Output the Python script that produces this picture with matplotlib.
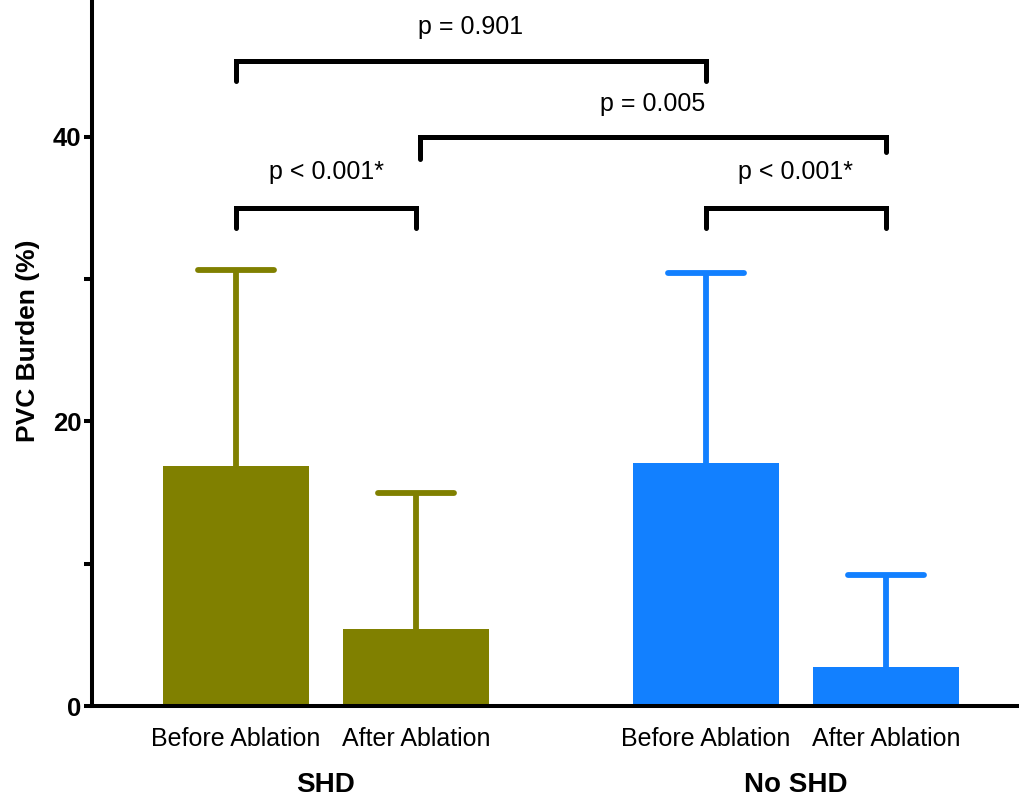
import matplotlib
matplotlib.use("Agg")
import matplotlib.pyplot as plt
import matplotlib.transforms as mtransforms
import numpy as np

plt.rcParams['font.family'] = ['Liberation Sans', 'DejaVu Sans']

# ---- data ----
groups = ["SHD", "No SHD"]
categories = ["Before Ablation", "After Ablation", "Before Ablation", "After Ablation"]
means = [16.87, 5.41, 17.08, 2.74]
upper_err = [13.78, 9.56, 13.36, 6.47]
colors = ["#808000", "#808000", "#1280FF", "#1280FF"]
positions = [1.0, 2.0, 3.611, 4.611]
yticks = [0, 10, 20, 30, 40]
ytick_labels = ["0", "", "20", "", "40"]

# comparisons: (x1, x2, bar height, left drop, right drop, label, label height)
comparisons = [
    (1.0, 3.611, 45.3, 43.9, 43.9, "p = 0.901", 47.7),
    (2.02, 4.611, 40.0, 38.4, 38.9, "p = 0.005", 42.3),
    (1.0, 2.0, 35.0, 33.6, 33.6, "p < 0.001*", 37.5),
    (3.611, 4.611, 35.0, 33.6, 33.6, "p < 0.001*", 37.5),
]

fig = plt.figure(figsize=(10.19, 8.0), dpi=100)
ax = fig.add_axes([92 / 1019, 94 / 800, (1019 - 92) / 1019, 706 / 800])

ax.bar(positions, means, width=0.806, color=colors, zorder=2)

# error bars (upper only) with rounded caps
capw = 0.21
for x, m, e, c in zip(positions, means, upper_err, colors):
    ax.plot([x, x], [m, m + e], color=c, lw=4.2, solid_capstyle='butt', zorder=1)
    ax.plot([x - capw, x + capw], [m + e, m + e], color=c, lw=4.2,
            solid_capstyle='round', zorder=1)

for x1, x2, h, d1, d2, lab, th in comparisons:
    ax.plot([x1, x1, x2, x2], [d1, h, h, d2], color='black', lw=3.6,
            solid_capstyle='round', solid_joinstyle='miter', clip_on=False)
    ax.text((x1 + x2) / 2, th, lab, ha='center', va='center', fontsize=18)

ax.set_xlim(0.2, 5.35)
ax.set_ylim(0, 49.6)

ax.spines['top'].set_visible(False)
ax.spines['right'].set_visible(False)
ax.spines['left'].set_linewidth(2.9)
ax.spines['bottom'].set_linewidth(2.9)

ax.set_yticks(yticks)
ax.set_yticklabels(ytick_labels, fontsize=18.5, fontweight='bold')
ax.tick_params(axis='y', length=5.5, width=2.9, pad=2)

ax.set_xticks(positions)
ax.set_xticklabels(categories, fontsize=18)
ax.tick_params(axis='x', length=0, pad=15)

ax.set_ylabel("PVC Burden (%)", fontsize=19, fontweight='bold')
ax.yaxis.set_label_coords(-0.056, 0.517)

trans = mtransforms.blended_transform_factory(ax.transData, ax.transAxes)
ax.text((positions[0] + positions[1]) / 2, -0.112, groups[0], transform=trans,
        ha='center', va='center', fontsize=20, fontweight='bold')
ax.text((positions[2] + positions[3]) / 2, -0.112, groups[1], transform=trans,
        ha='center', va='center', fontsize=20, fontweight='bold')

fig.savefig("out.png", dpi=100)
